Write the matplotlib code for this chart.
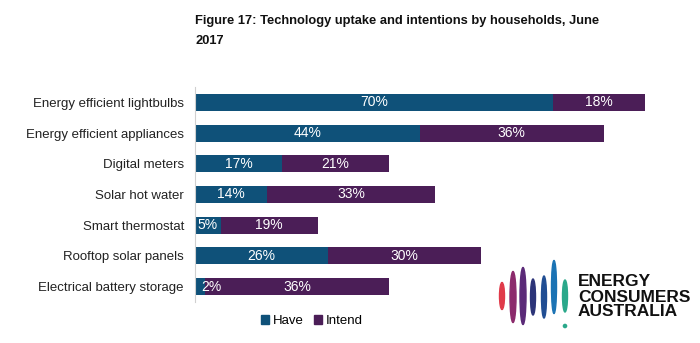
import matplotlib

matplotlib.use("Agg")
import matplotlib.pyplot as plt
from matplotlib.patches import Ellipse, Circle

plt.rcParams["font.family"] = ["Liberation Sans", "DejaVu Sans"]

categories = [
    "Energy efficient lightbulbs",
    "Energy efficient appliances",
    "Digital meters",
    "Solar hot water",
    "Smart thermostat",
    "Rooftop solar panels",
    "Electrical battery storage",
]
have = [70, 44, 17, 14, 5, 26, 2]
intend = [18, 36, 21, 33, 19, 30, 36]

HAVE_COLOR = "#0f5179"
INTEND_COLOR = "#4b1e57"

W, H = 700, 343
fig = plt.figure(figsize=(W / 100, H / 100), dpi=100)

# main axes in pixel terms: x from 195, 5.11 px per percent
left, width = 195, 5.11 * 98
top_y, bot_y = 87, 302
ax = fig.add_axes([left / W, 1 - bot_y / H, width / W, (bot_y - top_y) / H])

y = list(range(len(categories)))
ax.barh(y, have, height=0.55, color=HAVE_COLOR)
ax.barh(y, intend, left=have, height=0.55, color=INTEND_COLOR)
for i, (h, n) in enumerate(zip(have, intend)):
    ax.text(h / 2 if h > 3 else h + 1.2, i, f"{h}%", ha="center", va="center",
            color="white", fontsize=10)
    ax.text(h + n / 2, i, f"{n}%", ha="center", va="center",
            color="white", fontsize=10)

ax.set_xlim(0, 98)
ax.set_ylim(len(categories) - 0.5, -0.5)
ax.set_yticks(y)
ax.set_yticklabels(categories, fontsize=9.5, color="#222222")
ax.tick_params(axis="y", length=0, pad=8)
ax.set_xticks([])
for s in ["top", "right", "bottom"]:
    ax.spines[s].set_visible(False)
ax.spines["left"].set_color("#d0d0d0")

fig.text(195 / W, 1 - 31 / H,
         "Figure 17: Technology uptake and intentions by households, June\n2017",
         fontsize=9.3, fontweight="bold", ha="left", va="center",
         linespacing=1.9, color="#111111")

# legend
leg = fig.legend(
    handles=[plt.Rectangle((0, 0), 1, 1, color=HAVE_COLOR),
             plt.Rectangle((0, 0), 1, 1, color=INTEND_COLOR)],
    labels=["Have", "Intend"], loc="center", bbox_to_anchor=(312 / W, 1 - 321 / H),
    ncol=2, frameon=False, fontsize=9.5, handlelength=0.6, handleheight=0.6,
    handletextpad=0.3, columnspacing=0.8)

# logo
lax = fig.add_axes([0, 0, 1, 1])
lax.set_xlim(0, W)
lax.set_ylim(H, 0)
lax.axis("off")
lozenges = [
    (502, 296, 5, 27, "#e03a4a"),
    (513, 297, 6, 51, "#8c2a6c"),
    (523, 296, 6, 57, "#5b2a78"),
    (533, 297, 5, 36, "#2c3478"),
    (544, 297, 5, 42, "#214e93"),
    (554, 287, 5, 53, "#1b73b4"),
    (565, 296, 5, 32, "#2aa88a"),
]
for x0, y0, w0, h0, c in lozenges:
    lax.add_patch(Ellipse((x0, y0), w0, h0, color=c))
lax.add_patch(Circle((565, 326), 1.6, color="#2aa88a"))
lax.text(578, 297, "ENERGY\nCONSUMERS\nAUSTRALIA", fontsize=12.5,
         fontweight="bold", ha="left", va="center", linespacing=1.0,
         color="#111111")

fig.savefig("out.png", dpi=100)
